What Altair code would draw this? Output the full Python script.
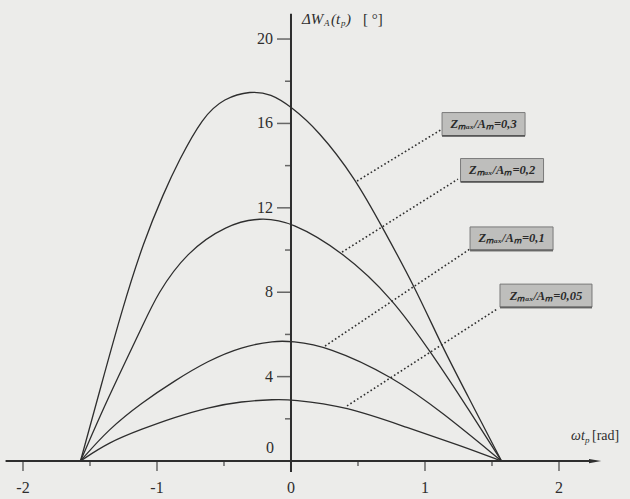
import altair as alt
import pandas as pd

# --- curve values: omega*t_p [rad] vs dW_A [deg] ---
x_03 = [-1.571, -1.42, -1.26, -1.10, -0.95, -0.84, -0.66, -0.50, -0.30, -0.15, 0.0, 0.20, 0.48, 0.68, 0.92, 1.13, 1.31, 1.571]
y_03 = [0.0, 3.5, 7.2, 10.4, 12.7, 14.2, 16.3, 17.2, 17.55, 17.4, 16.8, 15.7, 13.4, 11.1, 8.3, 5.4, 3.2, 0.0]

x_02 = [-1.571, -1.37, -1.10, -1.0, -0.78, -0.48, -0.23, 0.0, 0.39, 0.76, 1.06, 1.31, 1.571]
y_02 = [0.0, 2.94, 6.5, 7.9, 9.9, 11.2, 11.55, 11.35, 9.9, 7.7, 5.0, 2.6, 0.0]

x_01 = [-1.571, -1.36, -1.11, -0.87, -0.62, -0.37, -0.12, 0.0, 0.27, 0.76, 1.13, 1.571]
y_01 = [0.0, 1.52, 2.78, 3.8, 4.75, 5.42, 5.7, 5.68, 5.45, 4.0, 2.3, 0.0]

x_005 = [-1.571, -1.36, -1.11, -0.87, -0.62, -0.37, -0.12, 0.0, 0.41, 0.88, 1.26, 1.571]
y_005 = [0.0, 0.89, 1.52, 2.07, 2.54, 2.83, 2.92, 2.92, 2.6, 1.55, 0.75, 0.0]

ratios = ["0,3", "0,2", "0,1", "0,05"]

# callouts: point on curve, end of dotted leader, box centre
anchor_x = [0.493, 0.381, 0.254, 0.418]
anchor_y = [13.27, 9.9, 5.45, 2.61]
lead_x = [1.127, 1.246, 1.336, 1.537]
lead_y = [15.73, 13.36, 10.05, 7.20]
box_x = [1.437, 1.575, 1.646, 1.903]
box_y = [15.97, 13.79, 10.55, 7.84]

# axes
x_major = [-2, -1, 1, 2]
x_minor = [-1.5, -0.5, 0.5, 1.5]
x_labels = ["-2", "-1", "0", "1", "2"]
x_label_pos = [-2, -1, 0, 1, 2]
y_major = [4, 8, 12, 16, 20]
y_minor = [2, 6, 10, 14, 18]
x_axis_span = [-2.13, 2.24]
y_axis_span = [-0.52, 21.2]

INK = "#2e2e2e"
SERIF = "Liberation Serif"

xs = alt.Scale(domain=[-2.1716, 2.5299], nice=False, zero=False)
ys = alt.Scale(domain=[-1.80, 21.85], nice=False, zero=False)

def X(f="x"):
    return alt.X(f"{f}:Q", scale=xs, axis=None)

def Y(f="y"):
    return alt.Y(f"{f}:Q", scale=ys, axis=None)

rows = []
for name, xv, yv in [("0,3", x_03, y_03), ("0,2", x_02, y_02),
                     ("0,1", x_01, y_01), ("0,05", x_005, y_005)]:
    rows += [{"ratio": name, "x": a, "y": b} for a, b in zip(xv, yv)]
curves_df = pd.DataFrame(rows)

curves = alt.Chart(curves_df).mark_line(
    interpolate="basis", color=INK, strokeWidth=1.3
).encode(x=X(), y=Y(), detail="ratio:N")

call_df = pd.DataFrame({
    "ratio": ratios, "ax": anchor_x, "ay": anchor_y, "lx": lead_x, "ly": lead_y,
    "bx": box_x, "by": box_y,
    "label": [f"Zₘₐₓ/Aₘ={r}" for r in ratios],
})

leaders = alt.Chart(call_df).mark_rule(
    color=INK, strokeWidth=1.6, strokeDash=[1.6, 2.4]
).encode(x=X("ax"), y=Y("ay"), x2="lx:Q", y2="ly:Q")

def box_layer(df, w):
    base = alt.Chart(df)
    rect = base.mark_rect(
        width=w, height=23, fill="#bebebc", stroke="#7a7a7a", strokeWidth=1
    ).encode(x=X("bx"), y=Y("by"))
    line = base.mark_tick(
        orient="horizontal", thickness=2, size=w, yOffset=12, color="#444444"
    ).encode(x=X("bx"), y=Y("by"))
    return [rect, line]

box_text = alt.Chart(call_df).mark_text(
    font=SERIF, fontSize=12.5, fontStyle="italic", fontWeight="bold", color="#2a2a2a",
    align="center", baseline="middle"
).encode(x=X("bx"), y=Y("by"), text="label:N")

# axis lines
xaxis = alt.Chart(pd.DataFrame({"x": [x_axis_span[0]], "x2": [x_axis_span[1]], "y": [0]})).mark_rule(
    color=INK, strokeWidth=2
).encode(x=X(), x2="x2:Q", y=Y())
arrow = alt.Chart(pd.DataFrame({"x": [x_axis_span[1]], "y": [0]})).mark_point(
    shape="M-1,-0.35L1,0L-1,0.35Z", filled=True, size=150, color=INK, opacity=1, xOffset=4
).encode(x=X(), y=Y())
yaxis = alt.Chart(pd.DataFrame({"y": [y_axis_span[0]], "y2": [y_axis_span[1]], "x": [0]})).mark_rule(
    color=INK, strokeWidth=2
).encode(x=X(), y=Y(), y2="y2:Q")

ymaj_df = pd.DataFrame({"y": y_major, "x": 0})
ymin_df = pd.DataFrame({"y": y_minor, "x": 0})
ymaj = alt.Chart(ymaj_df).mark_tick(
    orient="horizontal", size=14, thickness=1.5, xOffset=-7, color=INK
).encode(y=Y(), x=X())
ymin = alt.Chart(ymin_df).mark_tick(
    orient="horizontal", size=6, thickness=1.5, xOffset=-3, color=INK
).encode(y=Y(), x=X())
ylab = alt.Chart(ymaj_df).mark_text(
    font=SERIF, fontSize=16, color=INK, align="right", baseline="middle", dx=-18
).encode(y=Y(), x=X(), text="y:Q")
zero_lab = alt.Chart(pd.DataFrame({"y": [0], "x": [0], "t": ["0"]})).mark_text(
    font=SERIF, fontSize=16, color=INK, align="right", baseline="middle", dx=-17, dy=-13
).encode(y=Y(), x=X(), text="t:N")

xmaj = alt.Chart(pd.DataFrame({"x": x_major, "y": 0})).mark_tick(
    orient="vertical", size=10, thickness=1.5, yOffset=5, color=INK
).encode(x=X(), y=Y())
xmin = alt.Chart(pd.DataFrame({"x": x_minor, "y": 0})).mark_tick(
    orient="vertical", size=5, thickness=1.5, yOffset=2.5, color=INK
).encode(x=X(), y=Y())
xlab = alt.Chart(pd.DataFrame({"x": x_label_pos, "t": x_labels, "y": 0})).mark_text(
    font=SERIF, fontSize=16, color=INK, align="center", baseline="middle", dy=27
).encode(x=X(), y=Y(), text="t:N")

def piece(text, dx, size=15, dy=0, italic=True, at=(0.0, 20.95)):
    return alt.Chart(pd.DataFrame({"x": [at[0]], "y": [at[1]], "t": [text]})).mark_text(
        font=SERIF, fontSize=size, fontStyle="italic" if italic else "normal",
        color=INK, align="left", baseline="middle", dx=dx, dy=dy
    ).encode(x=X(), y=Y(), text="t:N")

# y-axis title: dW_A(t_p) [deg]
ytitle = [
    piece("ΔW", 11),
    piece("A", 33, size=9, dy=4),
    piece("(t", 40),
    piece("p", 50, size=9, dy=4),
    piece(")", 55),
    piece("[ °]", 72, italic=False),
]
# x-axis title: omega t_p [rad]
xat = (0.0, 1.18)
xtitle = [
    piece("ωt", 280, size=14, at=xat),
    piece("p", 294, size=9, dy=4, at=xat),
    piece("[rad]", 301, size=14, italic=False, at=xat),
]

chart = alt.layer(
    curves, leaders, *box_layer(call_df.iloc[:3], 83), *box_layer(call_df.iloc[3:], 92), box_text,
    xaxis, arrow, yaxis, ymaj, ymin, ylab, zero_lab, xmaj, xmin, xlab,
    *ytitle, *xtitle
).properties(
    width=630, height=499, padding=0, autosize=alt.AutoSizeParams(type="none"),
    background="#ececea"
).configure_view(stroke=None)

chart.save("out.html", embed_options={"renderer": "svg", "actions": False})
